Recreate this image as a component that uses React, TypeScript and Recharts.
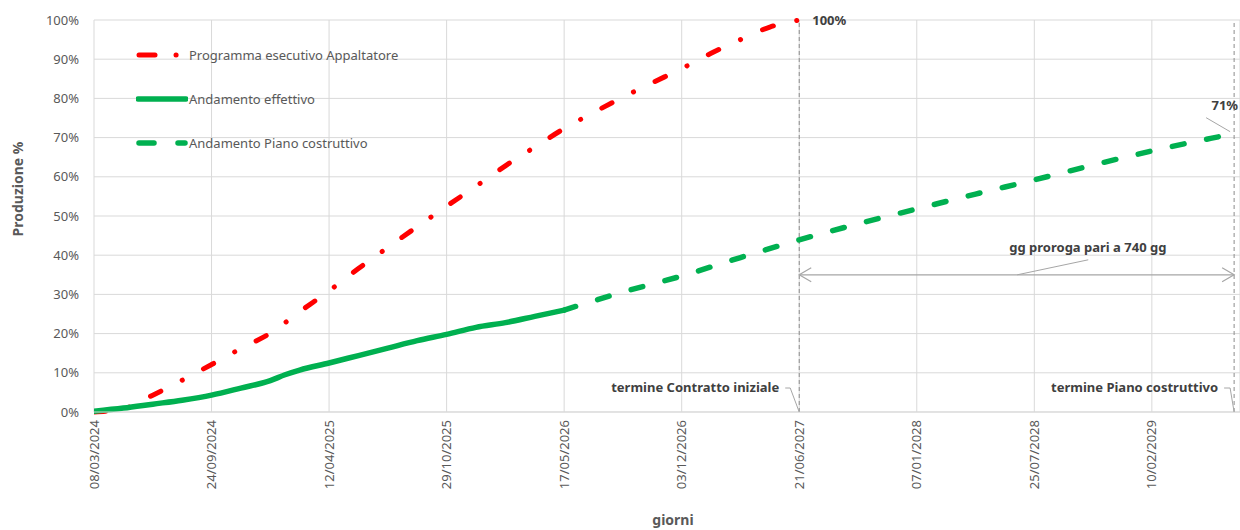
import { LineChart, Line, XAxis, YAxis, CartesianGrid, ReferenceLine, ReferenceDot } from "recharts"

// giorni dal 08/03/2024
const START = Date.UTC(2024, 2, 8)

const xTicks = [0, 200, 400, 600, 800, 1000, 1200, 1400, 1600, 1800]
const yTicks = [0, 10, 20, 30, 40, 50, 60, 70, 80, 90, 100]

// Programma esecutivo Appaltatore
const giorniProgramma = [0, 50, 100, 150, 200, 250, 300, 350, 400, 450, 500, 550, 600, 650, 700, 750, 800, 850, 900, 950, 1000, 1050, 1100, 1150, 1200]
const programma = [0, 0.8, 4.3, 8.1, 12.1, 16.2, 20.1, 25.6, 30.9, 36.6, 42.0, 47.3, 52.5, 57.6, 62.8, 67.6, 72.3, 76.4, 80.3, 84.0, 87.6, 91.5, 95.0, 98.2, 100]

// Andamento effettivo
const giorniEffettivo = [0, 50, 100, 150, 200, 250, 300, 325, 350, 400, 450, 500, 550, 600, 650, 700, 750, 800]
const effettivo = [0.2, 1.0, 2.0, 3.0, 4.3, 6.1, 8.0, 9.5, 10.7, 12.5, 14.4, 16.3, 18.2, 19.8, 21.6, 22.8, 24.4, 26.0]

// Andamento Piano costruttivo
const giorniPiano = [800, 900, 1000, 1100, 1200, 1300, 1400, 1500, 1600, 1700, 1800, 1900, 1940]
const piano = [26.0, 30.6, 34.7, 39.4, 43.9, 48.0, 51.8, 55.6, 59.2, 63.0, 66.6, 69.8, 71]

const FINE_CONTRATTO = 1200
const FINE_PIANO = 1940
const PROROGA = 740

const programmaData = giorniProgramma.map((g, i) => ({ giorno: g, valore: programma[i] }))
const effettivoData = giorniEffettivo.map((g, i) => ({ giorno: g, valore: effettivo[i] }))
const pianoData = giorniPiano.map((g, i) => ({ giorno: g, valore: piano[i] }))

const RED = "#ff0000"
const GREEN = "#00b050"
const GREY_TEXT = "#595959"
const DARK_TEXT = "#404040"
const FONT = "'Noto Sans', sans-serif"

const fmtData = (d: number) => {
    const dt = new Date(START + d * 86400000)
    const dd = String(dt.getUTCDate()).padStart(2, "0")
    const mm = String(dt.getUTCMonth() + 1).padStart(2, "0")
    return `${dd}/${mm}/${dt.getUTCFullYear()}`
}

const XTick = ({ x, y, payload }: any) => (
    <text
        transform={`translate(${x + 4.5},${y}) rotate(-90)`}
        textAnchor="end"
        fill={GREY_TEXT}
        fontSize={13}
        fontFamily={FONT}
    >
        {fmtData(payload.value)}
    </text>
)

const YTick = ({ x, y, payload }: any) => (
    <text x={x} y={y} dy={4.5} textAnchor="end" fill={GREY_TEXT} fontSize={13} fontFamily={FONT}>
        {payload.value}%
    </text>
)

const boldText = { fill: DARK_TEXT, fontSize: 13, fontWeight: 700, fontFamily: FONT }

// freccia doppia della proroga
const ArrowShape = ({ x1, y1, x2, y2 }: any) => (
    <g stroke="#a6a6a6" strokeWidth={1.2} fill="none">
        <line x1={x1} y1={y1} x2={x2} y2={y2} />
        <polyline points={`${x1 + 12},${y1 - 7} ${x1},${y1} ${x1 + 12},${y1 + 7}`} />
        <polyline points={`${x2 - 12},${y2 - 7} ${x2},${y2} ${x2 - 12},${y2 + 7}`} />
    </g>
)

const legendRows = [
    { name: "Programma esecutivo Appaltatore", kind: "dashdot" },
    { name: "Andamento effettivo", kind: "solid" },
    { name: "Andamento Piano costruttivo", kind: "dash" },
]

const Legenda = () => (
    <div style={{ position: "absolute", left: 136, top: 33 }}>
        {legendRows.map((r) => (
            <div key={r.name} style={{ height: 44, display: "flex", alignItems: "center" }}>
                <svg width={52} height={10}>
                    {r.kind === "dashdot" && (
                        <g stroke={RED} strokeWidth={5} strokeLinecap="round">
                            <line x1={3} y1={5} x2={19} y2={5} />
                            <line x1={40} y1={5} x2={40.1} y2={5} />
                        </g>
                    )}
                    {r.kind === "solid" && <line x1={2} y1={5} x2={50} y2={5} stroke={GREEN} strokeWidth={5.5} strokeLinecap="round" />}
                    {r.kind === "dash" && (
                        <g stroke={GREEN} strokeWidth={5.5} strokeLinecap="round">
                            <line x1={3} y1={5} x2={18} y2={5} />
                            <line x1={42} y1={5} x2={49} y2={5} />
                        </g>
                    )}
                </svg>
                <span style={{ color: GREY_TEXT, fontSize: 13, fontFamily: FONT, marginLeft: 1 }}>{r.name}</span>
            </div>
        ))}
    </div>
)

export default function App() {
    return (
        <div style={{ position: "absolute", left: 0, top: 0, width: 1240, height: 530, background: "#fff" }}>
            <LineChart width={1240} height={530} margin={{ top: 20, right: 0, bottom: 38, left: 0 }}>
                <CartesianGrid stroke="#d9d9d9" vertical horizontal />
                <XAxis
                    type="number"
                    dataKey="giorno"
                    domain={[0, 1950]}
                    ticks={xTicks}
                    allowDataOverflow
                    height={80}
                    tickSize={0}
                    tickMargin={8}
                    tick={<XTick />}
                    stroke="#d9d9d9"
                    label={{
                        content: ({ viewBox }: any) => (
                            <text x={viewBox.x + viewBox.width / 2 + 6} y={525} textAnchor="middle" {...boldText} fontSize={14} fill={GREY_TEXT}>
                                giorni
                            </text>
                        ),
                    }}
                />
                <YAxis
                    type="number"
                    domain={[0, 100]}
                    ticks={yTicks}
                    width={94}
                    axisLine={false}
                    tickSize={0}
                    tickMargin={15}
                    tick={<YTick />}
                    label={{
                        content: () => (
                            <text transform="translate(23,189) rotate(-90)" textAnchor="middle" {...boldText} fontSize={14} fill={GREY_TEXT}>
                                Produzione %
                            </text>
                        ),
                    }}
                />
                <ReferenceLine x={FINE_CONTRATTO} stroke="#8c8c8c" strokeDasharray="4 3" />
                <ReferenceLine x={FINE_PIANO} stroke="#8c8c8c" strokeDasharray="4 3" />
                <ReferenceLine
                    segment={[{ x: FINE_CONTRATTO, y: 35 }, { x: FINE_CONTRATTO + PROROGA, y: 35 }]}
                    shape={<ArrowShape />}
                />
                <Line
                    data={programmaData}
                    dataKey="valore"
                    type="monotone"
                    stroke={RED}
                    strokeWidth={5}
                    strokeDasharray="11.5 24 0.1 24"
                    strokeLinecap="round"
                    dot={false}
                    activeDot={false}
                    isAnimationActive={false}
                />
                <Line
                    data={effettivoData}
                    dataKey="valore"
                    type="monotone"
                    stroke={GREEN}
                    strokeWidth={5.5}
                    strokeLinecap="round"
                    dot={false}
                    activeDot={false}
                    isAnimationActive={false}
                />
                <Line
                    data={pianoData}
                    dataKey="valore"
                    type="monotone"
                    stroke={GREEN}
                    strokeWidth={5.5}
                    strokeDasharray="12 23"
                    strokeLinecap="round"
                    dot={false}
                    activeDot={false}
                    isAnimationActive={false}
                />
                {/* etichette */}
                <ReferenceDot
                    x={FINE_CONTRATTO}
                    y={100}
                    r={0}
                    shape={({ cx, cy }: any) => (
                        <text x={cx + 13} y={cy + 5} {...boldText}>100%</text>
                    )}
                />
                <ReferenceDot
                    x={FINE_PIANO}
                    y={71}
                    r={0}
                    shape={({ cx, cy }: any) => (
                        <g>
                            <line x1={cx - 28} y1={cy - 16} x2={cx - 4} y2={cy - 2} stroke="#a6a6a6" />
                            <text x={cx + 4} y={cy - 24} textAnchor="end" {...boldText}>71%</text>
                        </g>
                    )}
                />
                <ReferenceDot
                    x={FINE_CONTRATTO}
                    y={0}
                    r={0}
                    shape={({ cx, cy }: any) => (
                        <g>
                            <polyline points={`${cx - 14},${cy - 24} ${cx - 9},${cy - 24} ${cx},${cy}`} stroke="#a6a6a6" fill="none" />
                            <text x={cx - 20} y={cy - 20} textAnchor="end" {...boldText}>termine Contratto iniziale</text>
                        </g>
                    )}
                />
                <ReferenceDot
                    x={FINE_PIANO}
                    y={0}
                    r={0}
                    shape={({ cx, cy }: any) => (
                        <g>
                            <polyline points={`${cx - 10},${cy - 24} ${cx - 4},${cy - 24} ${cx},${cy}`} stroke="#a6a6a6" fill="none" />
                            <text x={cx - 16} y={cy - 20} textAnchor="end" {...boldText}>termine Piano costruttivo</text>
                        </g>
                    )}
                />
                <ReferenceDot
                    x={1571}
                    y={35}
                    r={0}
                    shape={({ cx, cy }: any) => (
                        <g>
                            <line x1={cx + 71} y1={cy - 15} x2={cx} y2={cy} stroke="#a6a6a6" />
                            <text x={cx - 8} y={cy - 23} {...boldText}>gg proroga pari a 740 gg</text>
                        </g>
                    )}
                />
            </LineChart>
            <Legenda />
        </div>
    )
}
